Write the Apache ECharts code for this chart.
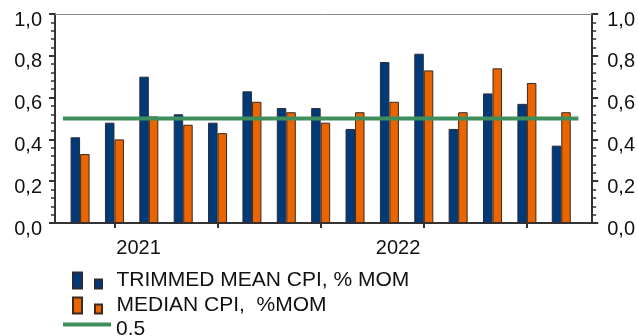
<!DOCTYPE html>
<html>
<head>
<meta charset="utf-8">
<style>
  html, body { margin: 0; padding: 0; background: #ffffff; }
  #chart { width: 638px; height: 336px; }
</style>
<script src="https://cdn.jsdelivr.net/npm/echarts@6/dist/echarts.min.js"></script>
</head>
<body>
<div id="chart"></div>
<script>
// Monthly readings, % month over month
const categories = ['2021-10', '2021-11', '2021-12', '2022-01', '2022-02', '2022-03', '2022-04',
  '2022-05', '2022-06', '2022-07', '2022-08', '2022-09', '2022-10', '2022-11', '2022-12'];
const trimmedMean = [0.41, 0.48, 0.70, 0.52, 0.48, 0.63, 0.55, 0.55, 0.45, 0.77, 0.81, 0.45, 0.62, 0.57, 0.37];
const medianCpi   = [0.33, 0.40, 0.51, 0.47, 0.43, 0.58, 0.53, 0.48, 0.53, 0.58, 0.73, 0.53, 0.74, 0.67, 0.53];
const threshold = 0.5;
const yearLabels = ['2021', '2022'];
const seriesNames = ['TRIMMED MEAN CPI, % MOM', 'MEDIAN CPI,  %MOM', '0.5'];

const FONT = 'Liberation Sans, Arial, sans-serif';
const BLUE = '#003a78';
const ORANGE = '#ea6400';
const GREEN = '#3f8f5c';
const AXIS = '#333333';

// x positions are month indices on a value axis
const xMin = -0.73;
const xMax = categories.length - 0.1;

const toPairs = arr => arr.map((v, i) => [i, v]);

// Legend glyph: a tall bar next to a small square
const barIcon = 'path://M0,0H9V16H0Z M22,7H29V16H22Z';
const lineIcon = 'path://M0,0H48V4H0Z';

const yAxisBase = (pos, margin) => ({
  type: 'value',
  position: pos,
  min: 0,
  max: 1,
  interval: 0.2,
  axisLine: { show: true, onZero: false, lineStyle: { color: AXIS, width: 2 } },
  axisTick: { show: true, inside: false, length: 6, lineStyle: { color: AXIS, width: 2 } },
  minorTick: { show: true, splitNumber: 5, length: 4, lineStyle: { color: AXIS, width: 1.5 } },
  splitLine: { show: false },
  axisLabel: {
    margin: margin,
    color: '#111',
    fontSize: 20,
    fontFamily: FONT,
    verticalAlign: 'top',
    lineHeight: 12,
    formatter: v => v.toFixed(1).replace('.', ',')
  }
});

// One legend block per row so the rows stack as a single column
const legendRow = (name, icon, left, top, dropText) => ({
  orient: 'vertical',
  left: left,
  top: top,
  itemWidth: 48,
  itemHeight: 16,
  padding: 0,
  formatter: '{t|{name}}',
  textStyle: {
    color: '#111', fontSize: 21, fontFamily: FONT,
    rich: { t: { color: '#111', fontSize: 21, fontFamily: FONT, padding: [dropText, 0, 0, 0] } }
  },
  data: [{ name: name, icon: icon }]
});

const chart = echarts.init(document.getElementById('chart'), null, { renderer: 'canvas' });

chart.setOption({
  animation: false,
  backgroundColor: '#ffffff',
  grid: { left: 55, right: 45, top: 14, bottom: 113, containLabel: false },
  xAxis: [
    {
      type: 'value',
      position: 'bottom',
      min: xMin,
      max: xMax,
      axisLine: { show: true, onZero: false, lineStyle: { color: AXIS, width: 2 } },
      axisTick: { show: true, length: 5, customValues: [1, 4, 7, 10, 13], lineStyle: { color: AXIS, width: 2 } },
      splitLine: { show: false },
      axisLabel: {
        show: true,
        customValues: [1.7, 9.25],
        margin: 15,
        color: '#111',
        fontSize: 20,
        fontFamily: FONT,
        formatter: (v) => yearLabels[v < 5 ? 0 : 1]
      }
    },
    {
      type: 'value',
      position: 'top',
      min: xMin,
      max: xMax,
      axisLine: { show: true, onZero: false, lineStyle: { color: '#8a8a8a', width: 1 } },
      axisTick: { show: false },
      axisLabel: { show: false },
      splitLine: { show: false }
    }
  ],
  yAxis: [yAxisBase('left', 13), yAxisBase('right', 15)],
  legend: [
    legendRow(seriesNames[0], barIcon, 72, 270, 0),
    legendRow(seriesNames[1], barIcon, 72, 295, 0),
    legendRow(seriesNames[2], lineIcon, 63, 319, 10)
  ],
  series: [
    {
      name: seriesNames[0],
      type: 'bar',
      xAxisIndex: 0,
      yAxisIndex: 0,
      barWidth: 9.5,
      barGap: '0%',
      itemStyle: { color: BLUE, borderColor: '#2a2a3a', borderWidth: 1 },
      data: toPairs(trimmedMean)
    },
    {
      name: seriesNames[1],
      type: 'bar',
      xAxisIndex: 0,
      yAxisIndex: 0,
      barWidth: 9.5,
      barGap: '0%',
      itemStyle: { color: ORANGE, borderColor: '#3a2a22', borderWidth: 1 },
      data: toPairs(medianCpi)
    },
    {
      name: seriesNames[2],
      type: 'line',
      xAxisIndex: 0,
      yAxisIndex: 0,
      symbol: 'none',
      z: 5,
      itemStyle: { color: GREEN },
      lineStyle: { color: GREEN, width: 4 },
      data: [[-0.5, threshold], [categories.length - 0.5, threshold]]
    }
  ]
});
</script>
</body>
</html>
